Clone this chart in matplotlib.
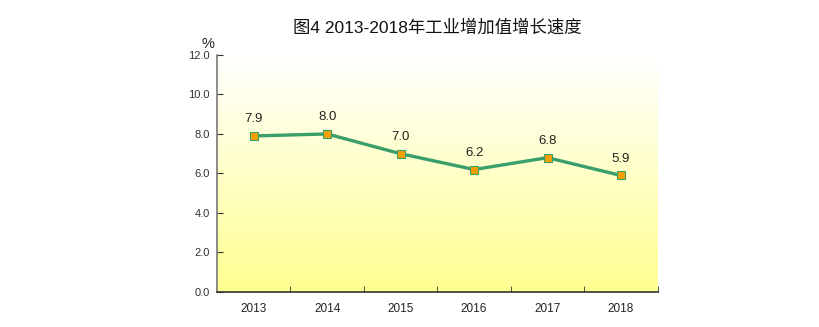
import numpy as np
import matplotlib.pyplot as plt
from matplotlib.colors import LinearSegmentedColormap

plt.rcParams['font.family'] = ['Liberation Sans', 'Noto Sans CJK SC']

# data
years = ['2013', '2014', '2015', '2016', '2017', '2018']
growth = [7.9, 8.0, 7.0, 6.2, 6.8, 5.9]
title = '图4 2013-2018年工业增加值增长速度'

fig = plt.figure(figsize=(8.19, 3.27), dpi=100)
ax = fig.add_axes([0.265, 0.107, 0.538, 0.725])

x = np.arange(len(years))
ax.set_xlim(-0.5, len(years) - 0.5)
ax.set_ylim(0, 12)

# background gradient, white at top to yellow at bottom
cmap = LinearSegmentedColormap.from_list('bg', ['#ffff90', '#ffffc8', '#ffffff'])
grad = np.linspace(0, 1, 256).reshape(-1, 1)
ax.imshow(grad, aspect='auto', cmap=cmap, origin='lower',
          extent=[-0.5, len(years) - 0.5, 0, 12], zorder=0)

ax.plot(x, growth, color='#3a9f6a', lw=2.4, zorder=2)
ax.plot(x, growth, ls='none', marker='s', ms=5.5, mfc='#f5a000',
        mec='#3a9f6a', mew=0.8, zorder=3)
for xi, v in zip(x, growth):
    ax.text(xi, v + 0.55, f'{v:.1f}', ha='center', va='bottom',
            fontsize=9.5, color='#222222')

ax.set_xticks(x)
ax.set_xticklabels(years)
ax.set_xticks(np.arange(0.5, len(years)), minor=True)
ax.tick_params(axis='x', which='major', length=0, pad=8, labelsize=8.5,
               colors='#222222')
ax.tick_params(axis='x', which='minor', length=4, direction='in',
               color='#333333')
ax.set_yticks(np.arange(0, 12.1, 2))
ax.set_yticklabels([f'{v:.1f}' for v in np.arange(0, 12.1, 2)])
ax.tick_params(axis='y', length=4, direction='in', labelsize=8,
               colors='#333333', pad=5)

for s in ['top', 'right']:
    ax.spines[s].set_visible(False)
ax.spines['left'].set_color('#777777')
ax.spines['bottom'].set_color('#333333')
ax.spines['left'].set_linewidth(1.2)
ax.spines['bottom'].set_linewidth(1.2)

ax.text(-0.005, 1.015, '%', transform=ax.transAxes, ha='right', va='bottom',
        fontsize=10.5, color='#222222')

fig.text(0.534, 0.915, title, ha='center', va='center', fontsize=12.5,
         color='#111111')

fig.savefig('out.png', dpi=100)
